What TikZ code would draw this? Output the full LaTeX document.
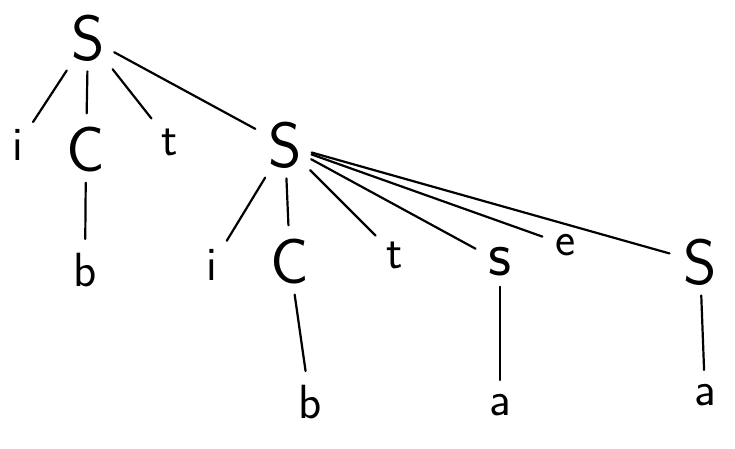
\documentclass[tikz,border=0pt]{standalone}
\usetikzlibrary{positioning}
\tikzset{
  sym/.style={font=\sffamily\fontsize{64}{64}\selectfont, inner sep=4pt},
  leaf/.style={font=\sffamily\fontsize{48}{48}\selectfont, inner sep=4pt},
  edge/.style={line width=2.2pt, line cap=round, shorten <=6pt, shorten >=10pt}
}
\begin{document}
\begin{tikzpicture}[x=1pt,y=-1pt]
  \useasboundingbox (0,0) rectangle (735,448);
  % upper level
  \node[sym] (S) at (88,38) {S};
  \node[leaf] (i) at (18,145) {i};
  \node[sym] (C) at (86,150) {C};
  \node[leaf] (t) at (170,142) {t};
  \node[sym] (S2) at (285,145) {S};
  \node[leaf] (b) at (85,270) {b};
  % inner S
  \node[leaf] (i2) at (212,265) {i};
  \node[sym] (C2) at (290,262) {C};
  \node[leaf] (t2) at (395,255) {t};
  \node[sym] (S3) at (500,262) {s};
  \node[leaf] (e) at (566,245) {e};
  \node[sym] (S4) at (700,262) {S};
  % leaves
  \node[leaf] (b2) at (310,402) {b};
  \node[leaf] (a) at (500,405) {a};
  \node[leaf] (a2) at (705,395) {a};
  \foreach \u/\v in {S/i, S/C, S/t, S/S2, C/b,
    S2/i2, S2/C2, S2/t2, S2/S3, S2/e, S2/S4,
    C2/b2, S3/a, S4/a2}
    \draw[edge] (\u) -- (\v);
\end{tikzpicture}
\end{document}
